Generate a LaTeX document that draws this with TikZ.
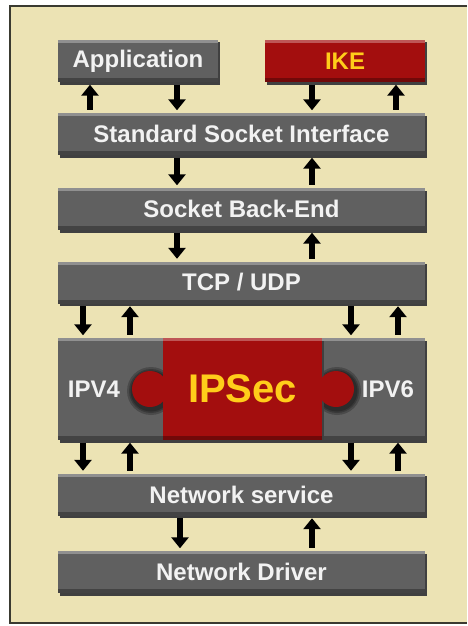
\documentclass[tikz,border=0pt]{standalone}
\usepackage{fontspec}
\setmainfont{Liberation Sans}
\usetikzlibrary{arrows.meta, positioning, shadows}
\definecolor{paper}{HTML}{ECE3B4}
\definecolor{slab}{HTML}{606060}
\definecolor{ipsecred}{HTML}{A30E0E}
\definecolor{keyyellow}{HTML}{FFCD1A}
\definecolor{framedark}{HTML}{3A3A30}

\begin{document}
\begin{tikzpicture}[x=1pt, y=-1pt, >={Triangle[width=17pt,length=11pt]}]
    \tikzstyle{layer}=[rectangle, fill=slab, inner sep=0pt, minimum height=42pt,
        text=white!95!black, font=\bfseries\fontsize{24}{24}\selectfont,
        drop shadow={shadow xshift=2pt, shadow yshift=-2.5pt, fill=black!75, opacity=1},
        path picture={
            \fill[white, opacity=.3] (path picture bounding box.north west) rectangle ([yshift=-3pt]path picture bounding box.north east);
            \fill[black, opacity=.3] ([yshift=4pt]path picture bounding box.south west) rectangle (path picture bounding box.south east);
        }]
    \tikzstyle{secure layer}=[layer, fill=ipsecred, text=keyyellow]
    \tikzstyle{tag}=[text=white!95!black, font=\bfseries\fontsize{24}{24}\selectfont]
    \tikzstyle{hole}=[fill=black, opacity=.22]
    \tikzstyle{flow}=[line width=6pt, draw=black, shorten <=2.5pt, shorten >=2.5pt]

    \useasboundingbox (0,0) rectangle (467,626);
    \fill[paper] (10,6) rectangle (467,623);
    \draw[framedark, line width=1.5pt] (467,6) -- (10,6) -- (10,623) -- (467,623);

	\node[layer, minimum width=160pt] (app) at (138,61) {Application};
	\node[secure layer, minimum width=160pt] (ike) at (345,61) {IKE};
	\node[layer, minimum width=367pt] (ssi) at (241.5,134) {Standard Socket Interface};
	\node[layer, minimum width=367pt] (sbe) at (241.5,209) {Socket Back-End};
	\node[layer, minimum width=367pt] (tcp) at (241.5,282.5) {TCP / UDP};

	% puzzle row
	\node[layer, minimum width=105pt, minimum height=102pt] (ipv4) at (110.5,389) {};
	\node[layer, minimum width=103pt, minimum height=102pt] (ipv6) at (373.5,389) {};
	\foreach \r in {24,22,20.5}{
		\fill[hole] (151,391) circle (\r);
		\fill[hole] (337,391) circle (\r);
	}
	\node[secure layer, minimum width=159pt, minimum height=102pt, font=\bfseries\fontsize{40}{40}\selectfont] (ipsec) at (242.5,389) {IPSec};
	\fill[ipsecred] (150,389) circle (18);
	\fill[ipsecred] (336,389) circle (18);
	\node[tag] (ipv4-t) at (94,389) {IPV4};
	\node[tag] (ipv6-t) at (388,389) {IPV6};

	\node[layer, minimum width=367pt] (ns) at (241.5,494.5) {Network service};
	\node[layer, minimum width=367pt] (nd) at (241.5,572) {Network Driver};

	\foreach \x/\t/\b in {177/app/ssi, 312/ike/ssi, 177/ssi/sbe, 177/sbe/tcp, 83/tcp/ipv4, 351/tcp/ipv6, 83/ipv4/ns, 351/ipv6/ns, 180/ns/nd}
		\draw[flow, ->] (\x,0 |- \t.south) -- (\x,0 |- \b.north);
	\foreach \x/\t/\b in {90/app/ssi, 396/ike/ssi, 312/ssi/sbe, 312/sbe/tcp, 130/tcp/ipv4, 398/tcp/ipv6, 130/ipv4/ns, 398/ipv6/ns, 312/ns/nd}
		\draw[flow, <-] (\x,0 |- \t.south) -- (\x,0 |- \b.north);
\end{tikzpicture}
\end{document}
